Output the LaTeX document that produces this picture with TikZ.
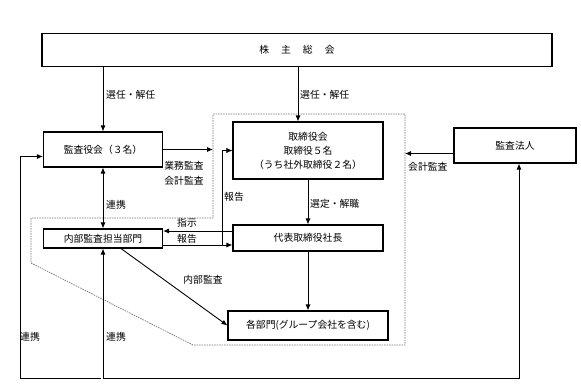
\documentclass[tikz,border=0pt]{standalone}
\usepackage{fontspec}
\setmainfont{Noto Sans CJK JP}
\usetikzlibrary{arrows.meta}

\tikzset{
    box/.style={draw, line width=1.1pt, inner sep=0pt, align=center, font=\fontsize{9.8}{14}\selectfont},
    lbl/.style={inner sep=0pt, font=\fontsize{9.8}{15}\selectfont},
    arr/.style={-{Latex[length=6pt,width=5pt]}, line width=0.9pt},
    arrboth/.style={{Latex[length=6pt,width=5pt]}-{Latex[length=6pt,width=5pt]}, line width=0.9pt},
    zone/.style={draw=black!55, line width=0.7pt, dash pattern=on 1.5pt off 1pt}
}

\begin{document}
\begin{tikzpicture}[x=1pt, y=-1pt]
    \useasboundingbox (0,0) rectangle (581,386);

    % Board area (dotted outline)
    \coordinate (zTL) at (213,114);
    \coordinate (zTR) at (405,114);
    \coordinate (zBR) at (405,345);
    \draw[zone] (zTL) -- (zTR) -- (zBR) -- (193,345) -- (31,263) -- (31,218) -- (213,218) -- cycle;

    % Boxes
    \node[box, minimum width=510pt, minimum height=33pt] (gm) at (297,50)
        {株\hspace{12pt}主\hspace{12pt}総\hspace{12pt}会};
    \node[box, minimum width=119pt, minimum height=35pt] (kansa) at (103,149.5) {監査役会（３名）};
    \node[box, minimum width=150pt, minimum height=57pt] (board) at (308,150.5)
        {取締役会\\取締役５名\\（うち社外取締役２名）};
    \node[box, minimum width=122pt, minimum height=35pt] (auditor) at (515,145.5) {監査法人};
    \node[box, minimum width=119pt, minimum height=19pt] (internal) at (103,238.5) {内部監査担当部門};
    \node[box, minimum width=150pt, minimum height=26pt] (pres) at (308,238) {代表取締役社長};
    \node[box, minimum width=160pt, minimum height=29pt] (depts) at (308,325.5) {各部門(グループ会社を含む)};

    % Shareholders down
    \draw[arr] (kansa.north |- gm.south) -- (kansa.north);
    \draw[arr] ([xshift=-10pt]board.north |- gm.south) -- ([xshift=-10pt]board.north);
    \node[lbl, anchor=west] (elect1) at (106,95) {選任・解任};
    \node[lbl, anchor=west] (elect2) at (300,95) {選任・解任};

    % Audit board
    \draw[arr] (kansa.east) -- (kansa.east -| zTL);
    \node[lbl, align=center] (audits) at (184,173) {業務監査\\会計監査};
    \draw[arrboth] (kansa.south) -- (internal.north);
    \node[lbl, anchor=west] (link1) at (106,205) {連携};

    % Audit firm
    \draw[arr] ([yshift=-8pt]auditor.west) -- ([yshift=-8pt]auditor.west -| zBR);
    \node[lbl, anchor=west] (acct) at (408,167) {会計監査};

    % Board and president
    \draw[arr] (board.south) -- (pres.north);
    \node[lbl, anchor=west] (appoint) at (310,204) {選定・解職};
    \draw[arr] (pres.south) -- (depts.north);

    % Instruction and report
    \draw[arr] ([yshift=7pt]pres.west) -- ([yshift=7pt]pres.west -| internal.east);
    \node[lbl] (instr) at (187,223) {指示};
    \draw[arr] ([yshift=-7pt]pres.west -| internal.east) -- ([yshift=-7pt]pres.west);
    \node[lbl] (rep1) at (187,239) {報告};
    \coordinate (rb) at (222,245);
    \draw[arr, line width=0.5pt] (rb) |- (board.west);
    \node[lbl, anchor=west] (rep2) at (224,197) {報告};

    % Internal audit
    \draw[arr] ([xshift=18pt]internal.south) -- (depts.west);
    \node[lbl] (intaudit) at (203,280) {内部監査};

    % Bottom links
    \coordinate (bot) at (105,378);
    \draw[arrboth] (internal.south) -- (internal.south |- bot) -| ([xshift=4pt]auditor.south);
    \coordinate (botl) at (101,378);
    \coordinate (lc) at (20,378);
    \draw[arr] (botl) -- (lc) |- ([yshift=-7pt]kansa.west);
    \node[lbl] (link2) at (30,337) {連携};
    \node[lbl, anchor=west] (link3) at (106,337) {連携};
\end{tikzpicture}
\end{document}
